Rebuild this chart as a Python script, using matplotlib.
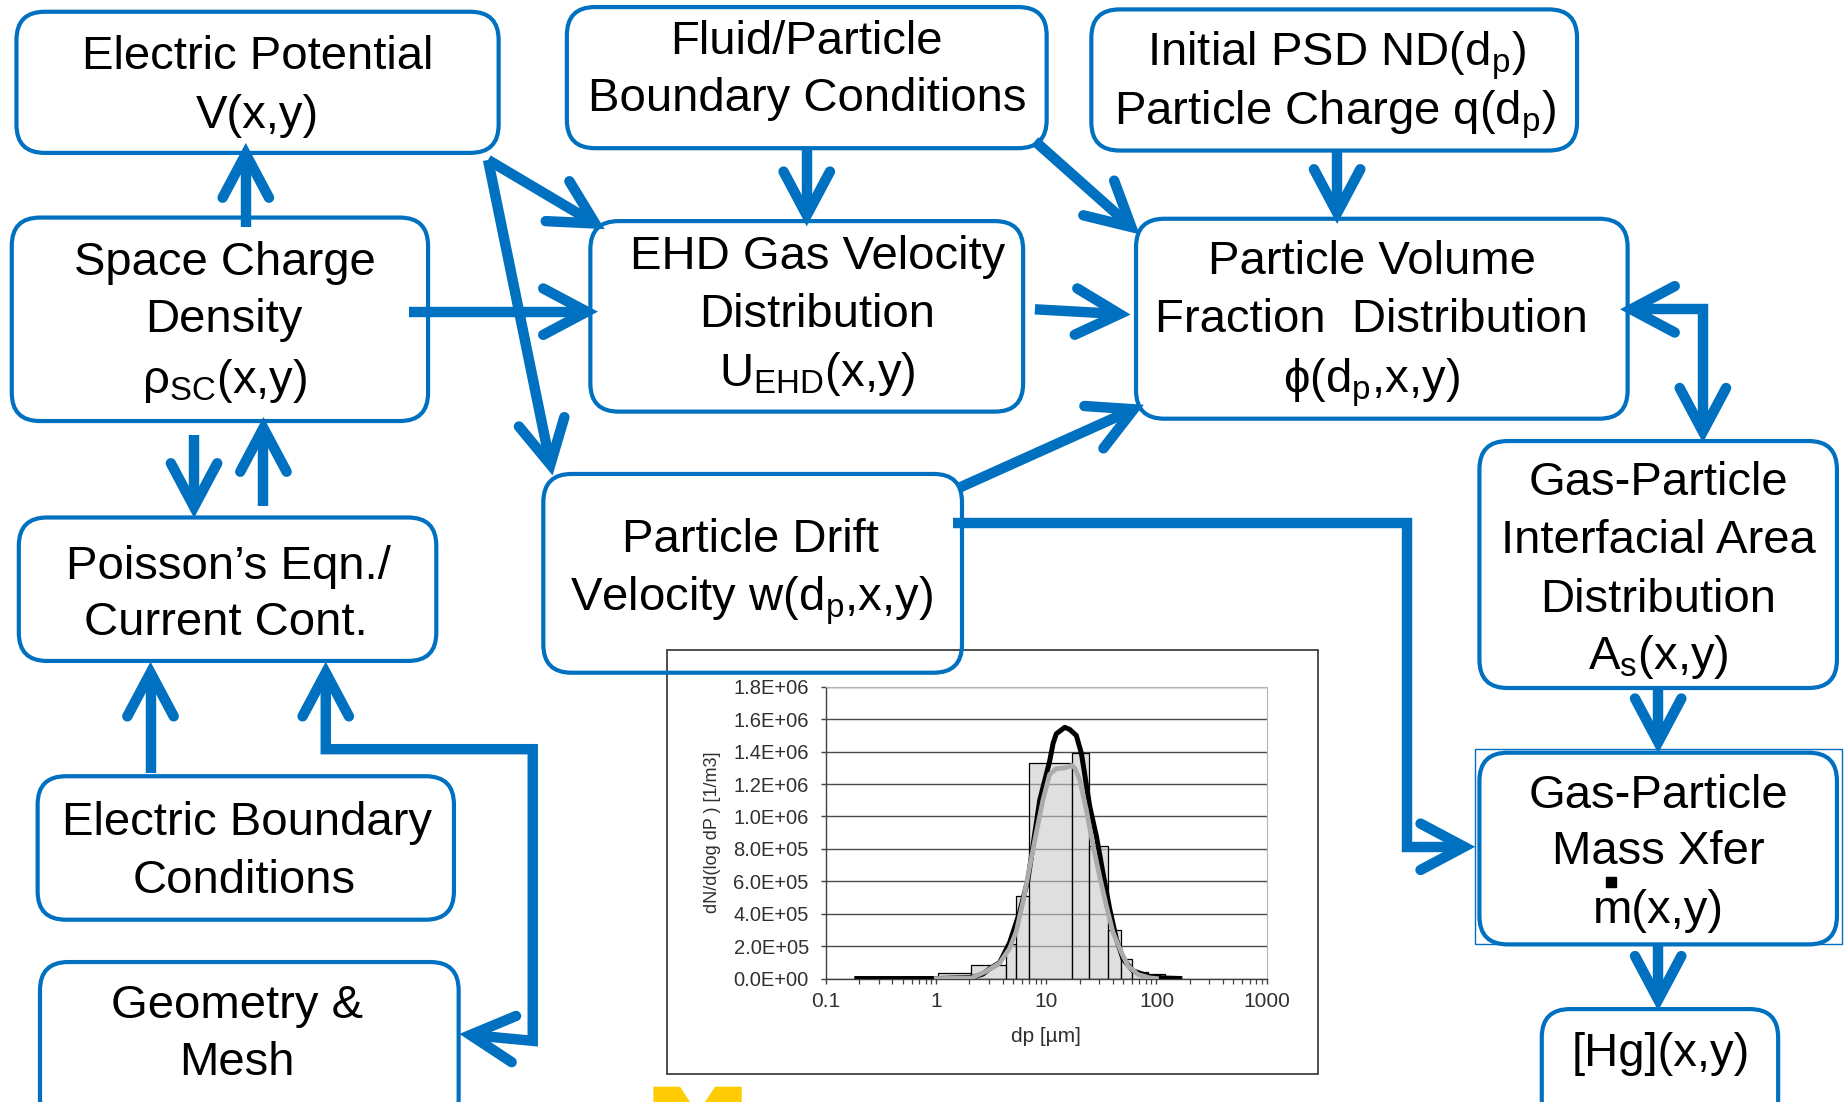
import numpy as np
import matplotlib
matplotlib.use('Agg')
import matplotlib.pyplot as plt
from matplotlib.patches import FancyBboxPatch, Rectangle, Polygon
from matplotlib.ticker import FuncFormatter, FixedLocator, LogLocator, NullFormatter

plt.rcParams['font.family'] = ['Liberation Sans', 'DejaVu Sans']
plt.rcParams['mathtext.fontset'] = 'custom'
plt.rcParams['mathtext.rm'] = 'Liberation Sans'
plt.rcParams['mathtext.it'] = 'Liberation Sans:italic'
plt.rcParams['mathtext.bf'] = 'Liberation Sans:bold'

BLUE = '#0070C0'
LW_ARROW = 7.5
LW_BOX = 3.0
FS_BOX = 34

# particle size distribution (dp in um, dN/dlogdp in 1/m3)
bin_edges = [1.03, 2.08, 4.27, 5.33, 6.95, 17.1, 24.3, 36.3, 48.1, 60, 83.9, 119]
bin_counts = [0.33e5, 0.84e5, 2.1e5, 5.08e5, 13.32e5, 13.93e5, 8.2e5, 2.97e5, 1.23e5,
              0.41e5, 0.29e5]

meas_dp = [0.19, 1.0, 2.08, 2.64, 3.05, 3.76, 4.63, 5.7, 6.8, 8.7, 10.7, 11.5, 12.3,
           14.7, 16.3, 18.7, 20.8, 24.8, 28.5, 32.7, 37.7, 43.3, 49.8, 61.4, 86.9, 120, 163]
meas_n = [0, 0, 0.06e5, 0.27e5, 0.6e5, 0.98e5, 2.2e5, 4.06e5, 6.1e5, 11.0e5, 13.4e5,
          14.5e5, 15.1e5, 15.5e5, 15.37e5, 15.0e5, 13.9e5, 10.6e5, 8.77e5, 6.5e5, 4.26e5,
          2.42e5, 1.19e5, 0.47e5, 0.12e5, 0.03e5, 0]

fit_dp = [1.0, 2.08, 2.85, 3.76, 4.63, 5.33, 6.2, 7.05, 8.1, 9.3, 10.7, 12.3, 14.7, 17.1,
          18.1, 20.1, 23.1, 26.6, 30.5, 35.1, 40.4, 48.1, 55.2, 68, 86.9, 100]
fit_n = [0, 0.03e5, 0.45e5, 0.95e5, 1.85e5, 2.9e5, 4.9e5, 6.9e5, 9.0e5, 11.0e5, 12.6e5,
         12.95e5, 13.0e5, 13.15e5, 13.0e5, 12.25e5, 10.4e5, 8.16e5, 6.3e5, 4.47e5, 2.83e5,
         1.6e5, 0.78e5, 0.25e5, 0.04e5, 0]

x_ticks = [0.1, 1, 10, 100, 1000]
x_tick_labels = ['0.1', '1', '10', '100', '1000']
y_ticks = [0, 2e5, 4e5, 6e5, 8e5, 10e5, 12e5, 14e5, 16e5, 18e5]

# boxes: (x0, y0, x1, y1) in canvas units, y pointing down
BOXES = {
    'potential': (14, 10, 424, 130),
    'fluid_bc': (482, 6, 890, 126),
    'psd': (928, 8, 1341, 128),
    'space_charge': (10, 185, 364, 358),
    'ehd': (502, 188, 870, 350),
    'vol_frac': (966, 186, 1384, 356),
    'poisson': (16, 440, 371, 562),
    'drift': (462, 403, 818, 572),
    'interfacial': (1258, 375, 1562, 585),
    'elec_bc': (32, 660, 386, 782),
    'mass_xfer': (1258, 640, 1562, 803),
    'geometry': (34, 818, 390, 960),
    'hg': (1311, 858, 1512, 960),
}

SUB = r'$_\mathregular{%s}$'
LABELS = [
    (219, 45, 'Electric Potential'),
    (219, 95, 'V(x,y)'),
    (686, 32, 'Fluid/Particle'),
    (686, 80, 'Boundary Conditions'),
    (1136, 42, 'Initial PSD ND(d' + SUB % 'p' + ')'),
    (1135, 92, 'Particle Charge q(d' + SUB % 'p' + ')'),
    (191, 220, 'Space Charge'),
    (190, 268, 'Density'),
    (191, 320, '\u03c1' + SUB % 'SC' + '(x,y)'),
    (695, 215, 'EHD Gas Velocity'),
    (695, 264, 'Distribution'),
    (695, 314, 'U' + SUB % 'EHD' + '(x,y)'),
    (1167, 219, 'Particle Volume'),
    (1166, 268, 'Fraction  Distribution'),
    (1166, 320, '\u03d5(d' + SUB % 'p' + ',x,y)'),
    (194, 478, 'Poisson\u2019s Eqn./'),
    (192, 526, 'Current Cont.'),
    (638, 455, 'Particle Drift'),
    (639, 505, 'Velocity w(d' + SUB % 'p' + ',x,y)'),
    (1410, 407, 'Gas-Particle'),
    (1410, 456, 'Interfacial Area'),
    (1410, 506, 'Distribution'),
    (1410, 555, 'A' + SUB % 's' + '(x,y)'),
    (210, 696, 'Electric Boundary'),
    (208, 745, 'Conditions'),
    (1410, 673, 'Gas-Particle'),
    (1410, 721, 'Mass Xfer'),
    (1410, 771, 'm(x,y)'),
    (202, 852, 'Geometry &'),
    (201, 900, 'Mesh'),
    (1412, 892, '[Hg](x,y)'),
]

# connectors: polyline points, last point is the arrow tip
ARROWS = [
    ([(209, 193), (209, 131)], False),
    ([(348, 265), (499, 265)], False),
    ([(415, 136), (506, 190)], False),
    ([(415, 136), (468, 395)], False),
    ([(686, 126), (686, 183)], False),
    ([(880, 120), (962, 193)], False),
    ([(1137, 128), (1137, 181)], False),
    ([(880, 263), (952, 267)], False),
    ([(815, 415), (964, 348)], False),
    ([(810, 445), (1196, 445), (1196, 720), (1245, 720)], False),
    ([(1387, 263), (1448, 263), (1448, 367)], True),
    ([(1410, 587), (1410, 631)], False),
    ([(1410, 803), (1410, 850)], False),
    ([(165, 370), (165, 431)], False),
    ([(224, 430), (224, 364)], False),
    ([(128, 657), (128, 572)], False),
    ([(277, 572), (277, 637), (453, 637), (453, 885), (400, 880)], True),
]


def chevron(ax, tip, back, length=42, half_angle=28):
    dx, dy = back[0] - tip[0], back[1] - tip[1]
    d = np.hypot(dx, dy)
    ux, uy = dx / d, dy / d
    wings = []
    for s in (1, -1):
        a = np.radians(s * half_angle)
        wx = ux * np.cos(a) - uy * np.sin(a)
        wy = ux * np.sin(a) + uy * np.cos(a)
        wings.append((tip[0] + length * wx, tip[1] + length * wy))
    ax.plot([wings[0][0], tip[0], wings[1][0]], [wings[0][1], tip[1], wings[1][1]],
            color=BLUE, lw=LW_ARROW, solid_capstyle='round', solid_joinstyle='miter', zorder=4)


def draw_arrow(ax, pts, both):
    xs = [p[0] for p in pts]
    ys = [p[1] for p in pts]
    ax.plot(xs, ys, color=BLUE, lw=LW_ARROW, solid_capstyle='butt',
            solid_joinstyle='miter', zorder=3)
    chevron(ax, pts[-1], pts[-2])
    if both:
        chevron(ax, pts[0], pts[1])


fig = plt.figure(figsize=(18.44, 11.02), dpi=100)
ax = fig.add_axes([0, 0, 1, 1])
ax.set_xlim(0, 1568)
ax.set_ylim(937, 0)
ax.axis('off')

# inset frame behind everything
ax.add_patch(Rectangle((567, 553), 554, 360, facecolor='white', edgecolor='#404040',
                       lw=1.3, zorder=1))

for name, (x0, y0, x1, y1) in BOXES.items():
    ax.add_patch(FancyBboxPatch((x0, y0), x1 - x0, y1 - y0,
                                boxstyle='round,pad=0,rounding_size=24',
                                facecolor='none', edgecolor=BLUE, lw=LW_BOX, zorder=2))

# thin selection frame around the mass transfer box
ax.add_patch(Rectangle((1254, 637), 312, 166, facecolor='none', edgecolor=BLUE,
                       lw=1.0, zorder=2))

for x, y, s in LABELS:
    ax.text(x, y + 14, s, fontsize=FS_BOX, ha='center', va='baseline', color='black',
            zorder=5)

# dot over the m
ax.plot([1370], [750], marker='s', ms=7, color='black', zorder=5)

for pts, both in ARROWS:
    draw_arrow(ax, pts, both)

# block M logo peeking at the bottom edge
ax.add_patch(Polygon([(555.6, 924), (578.2, 924), (586.7, 937), (555.6, 937)],
                     closed=True, facecolor='#FFCB05', edgecolor='none', zorder=2))
ax.add_patch(Polygon([(599.5, 937), (608, 924), (630.7, 924), (630.7, 937)],
                     closed=True, facecolor='#FFCB05', edgecolor='none', zorder=2))

# particle size distribution inset
ax_in = fig.add_axes([702.5 / 1568, 1 - 832 / 937, 374.5 / 1568, 248 / 937])
ax_in.set_facecolor('white')
ax_in.set_xscale('log')
ax_in.set_xlim(0.1, 1000)
ax_in.set_ylim(0, 1.8e6)
ax_in.set_axisbelow(True)

left = bin_edges[:-1]
widths = np.diff(bin_edges)
ax_in.bar(left, bin_counts, width=widths, align='edge', color=(0.79, 0.79, 0.79, 0.58),
          edgecolor='black', lw=0.9, zorder=2)
ax_in.plot(meas_dp, meas_n, color='black', lw=3.6, zorder=3)
ax_in.plot(fit_dp, fit_n, color='#ababab', lw=3.4, zorder=4)

ax_in.yaxis.set_major_locator(FixedLocator(y_ticks))
ax_in.yaxis.set_major_formatter(FuncFormatter(lambda v, p: f'{v:.1E}'))
ax_in.xaxis.set_major_locator(FixedLocator(x_ticks))
ax_in.set_xticklabels(x_tick_labels)
ax_in.xaxis.set_minor_locator(LogLocator(base=10, subs=np.arange(2, 10)))
ax_in.xaxis.set_minor_formatter(NullFormatter())

ax_in.grid(axis='y', color='#4a4a4a', lw=1.0, zorder=0)
for side in ('top', 'right'):
    ax_in.spines[side].set_color('#b5b5b5')
for side in ('left', 'bottom'):
    ax_in.spines[side].set_color('#404040')
    ax_in.spines[side].set_linewidth(1.0)

ax_in.tick_params(axis='both', which='major', labelcolor='#303030',
                  color='#404040', length=3.5, width=1.0, direction='out')
ax_in.tick_params(axis='y', labelsize=14.5, pad=9)
ax_in.tick_params(axis='x', labelsize=15, pad=6)
ax_in.tick_params(axis='x', which='minor', length=3.5, width=0.9, color='#404040',
                  direction='out')

ax_in.set_xlabel('dp [\u00b5m]', fontsize=15, color='#303030', labelpad=12)
ax_in.set_ylabel('dN/d(log dP ) [1/m3]', fontsize=13, color='#303030', labelpad=9)

fig.savefig('out.png', dpi=100)
